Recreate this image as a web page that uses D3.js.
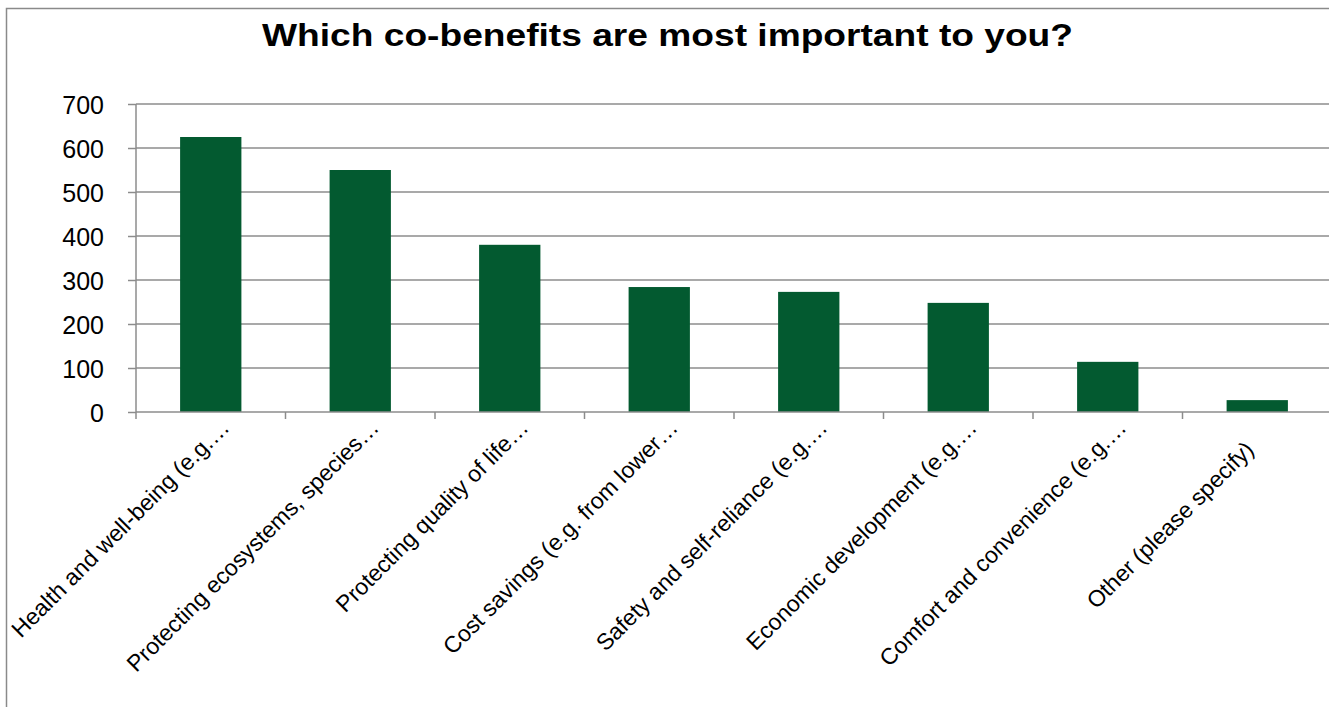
<!DOCTYPE html>
<html><head><meta charset="utf-8">
<script src="https://cdn.jsdelivr.net/npm/d3@7"></script>
<style>body{margin:0;background:#fff;}svg{display:block;font-family:"Liberation Sans",Arial,sans-serif;}</style>
</head><body>
<script>
const title = "Which co-benefits are most important to you?";
const categories = [
  "Health and well-being (e.g.…",
  "Protecting ecosystems, species…",
  "Protecting quality of life…",
  "Cost savings (e.g. from lower…",
  "Safety and self-reliance (e.g.…",
  "Economic development (e.g.…",
  "Comfort and convenience (e.g.…",
  "Other (please specify)"
];
const values = [625, 550, 380, 284, 273, 248, 114, 27];
const yTicks = [0, 100, 200, 300, 400, 500, 600, 700];

const W = 1329, H = 707;
const svg = d3.select("body").append("svg").attr("width", W).attr("height", H);

// outer frame (extends beyond window)
svg.append("rect").attr("x", 6.5).attr("y", 8.5).attr("width", 1400).attr("height", 800)
  .attr("fill", "#fff").attr("stroke", "#8a8a8a").attr("stroke-width", 1.5);

const x0 = 136, bandW = 149.5;
const x = d3.scaleBand().domain(categories).range([x0, x0 + bandW * categories.length]).paddingInner(0.59).paddingOuter(0.295);
const y = d3.scaleLinear().domain([0, 700]).range([412, 104]);
const xRight = x0 + bandW * categories.length;

// gridlines
svg.append("g").selectAll("line").data(yTicks.slice(1)).join("line")
  .attr("x1", x0).attr("x2", xRight).attr("y1", d => y(d)).attr("y2", d => y(d))
  .attr("stroke", "#8c8c8c").attr("stroke-width", 1.5);

// y axis
const ya = svg.append("g").attr("transform", `translate(${x0},0)`)
  .call(d3.axisLeft(y).tickValues(yTicks).tickSize(8).tickPadding(24).tickFormat(d3.format("d")));
ya.attr("font-size", null).attr("font-family", null);
ya.select(".domain").attr("stroke", "#8c8c8c").attr("stroke-width", 1.5).attr("d", `M0,${y(700)}V${y(0)}`);
ya.selectAll(".tick line").attr("stroke", "#8c8c8c").attr("stroke-width", 1.5);
ya.selectAll(".tick text").style("font-size", "25px").attr("fill", "#000").attr("dy", "0.36em");

// bars
svg.append("g").selectAll("rect").data(values).join("rect")
  .attr("x", (d, i) => x(categories[i])).attr("width", x.bandwidth())
  .attr("y", d => y(d)).attr("height", d => y(0) - y(d))
  .attr("fill", "#035a30");

// x axis
const xTickPos = d3.range(categories.length + 1).map(i => x0 + i * bandW);
svg.append("line").attr("x1", x0).attr("x2", xRight).attr("y1", y(0)).attr("y2", y(0))
  .attr("stroke", "#8c8c8c").attr("stroke-width", 1.5);
svg.append("g").selectAll("line").data(xTickPos).join("line")
  .attr("x1", d => d).attr("x2", d => d).attr("y1", y(0)).attr("y2", y(0) + 7)
  .attr("stroke", "#8c8c8c").attr("stroke-width", 1.5);

svg.append("g").selectAll("text").data(categories).join("text")
  .attr("transform", d => {
    const cx = x(d) + x.bandwidth() / 2;
    const trunc = d.endsWith("…");
    const dx = trunc ? 20 : -2, dy = trunc ? 17 : 39;
    return `translate(${cx + dx},${y(0) + dy}) rotate(-45)`;
  })
  .attr("text-anchor", "end")
  .style("font-size", "23px").attr("fill", "#000")
  .text(d => d);

// title
svg.append("text").attr("x", 667.5).attr("y", 46).attr("text-anchor", "middle")
  .style("font-size", "31px").attr("font-weight", "bold").attr("fill", "#000")
  .attr("textLength", 811).attr("lengthAdjust", "spacingAndGlyphs")
  .text(title);
</script>
</body></html>
